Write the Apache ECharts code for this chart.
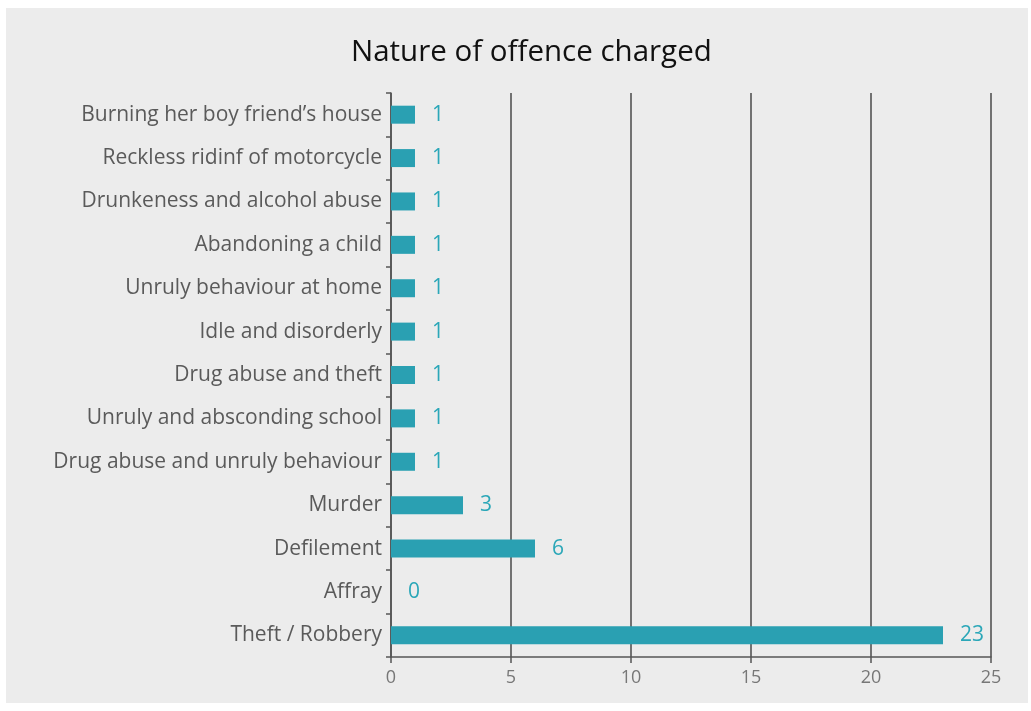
<!DOCTYPE html>
<html>
<head>
<meta charset="utf-8">
<script src="https://cdn.jsdelivr.net/npm/echarts@6/dist/echarts.min.js"></script>
<style>
  html, body { margin: 0; padding: 0; background: #ffffff; }
  #frame { position: absolute; left: 6px; top: 8px; width: 1022px; height: 695px; background: #ececec; }
  #chart { position: absolute; left: 0; top: 0; width: 1031px; height: 711px; }
</style>
</head>
<body>
<div id="frame"></div>
<div id="chart"></div>
<script>
// Offence categories, listed bottom to top as drawn on the category axis
const categories = [
  'Theft / Robbery',
  'Affray',
  'Defilement',
  'Murder',
  'Drug abuse and unruly behaviour',
  'Unruly and absconding school',
  'Drug abuse and theft',
  'Idle and disorderly',
  'Unruly behaviour at home',
  'Abandoning a child',
  'Drunkeness and alcohol abuse',
  'Reckless ridinf of motorcycle',
  'Burning her boy friend\u2019s house'
];
// Number of children charged with each offence
const counts = [23, 0, 6, 3, 1, 1, 1, 1, 1, 1, 1, 1, 1];

const FONT = '"Open Sans", "Noto Sans", sans-serif';
const chart = echarts.init(document.getElementById('chart'), null, { renderer: 'canvas' });

chart.setOption({
  backgroundColor: 'transparent',
  animation: false,
  title: {
    text: 'Nature of offence charged',
    left: 346,
    top: 33,
    textStyle: { fontFamily: FONT, fontSize: 29.5, fontWeight: 'normal', color: '#111111' }
  },
  grid: { left: 391, right: 40, top: 93, bottom: 54, containLabel: false },
  xAxis: {
    type: 'value',
    min: 0,
    max: 25,
    interval: 5,
    axisLine: { show: true, lineStyle: { color: '#555555', width: 1.5 } },
    axisTick: { show: true, length: 6, lineStyle: { color: '#555555', width: 1.5 } },
    axisLabel: { fontFamily: FONT, fontSize: 18, color: '#777777', margin: 12 },
    splitLine: { show: true, lineStyle: { color: '#4a4a4a', width: 1.5 } }
  },
  yAxis: {
    type: 'category',
    data: categories,
    axisLine: { show: true, lineStyle: { color: '#555555', width: 1.5 } },
    axisTick: { show: true, length: 5, lineStyle: { color: '#555555', width: 1.5 } },
    axisLabel: { fontFamily: FONT, fontSize: 21, color: '#5a5a5a', margin: 9 },
    splitLine: { show: false }
  },
  series: [{
    type: 'bar',
    data: counts,
    barWidth: 18,
    itemStyle: { color: '#2aa0b2' },
    label: {
      show: true,
      position: 'right',
      distance: 17,
      fontFamily: FONT,
      fontSize: 21,
      color: '#2ba7b8'
    }
  }]
});
</script>
</body>
</html>
